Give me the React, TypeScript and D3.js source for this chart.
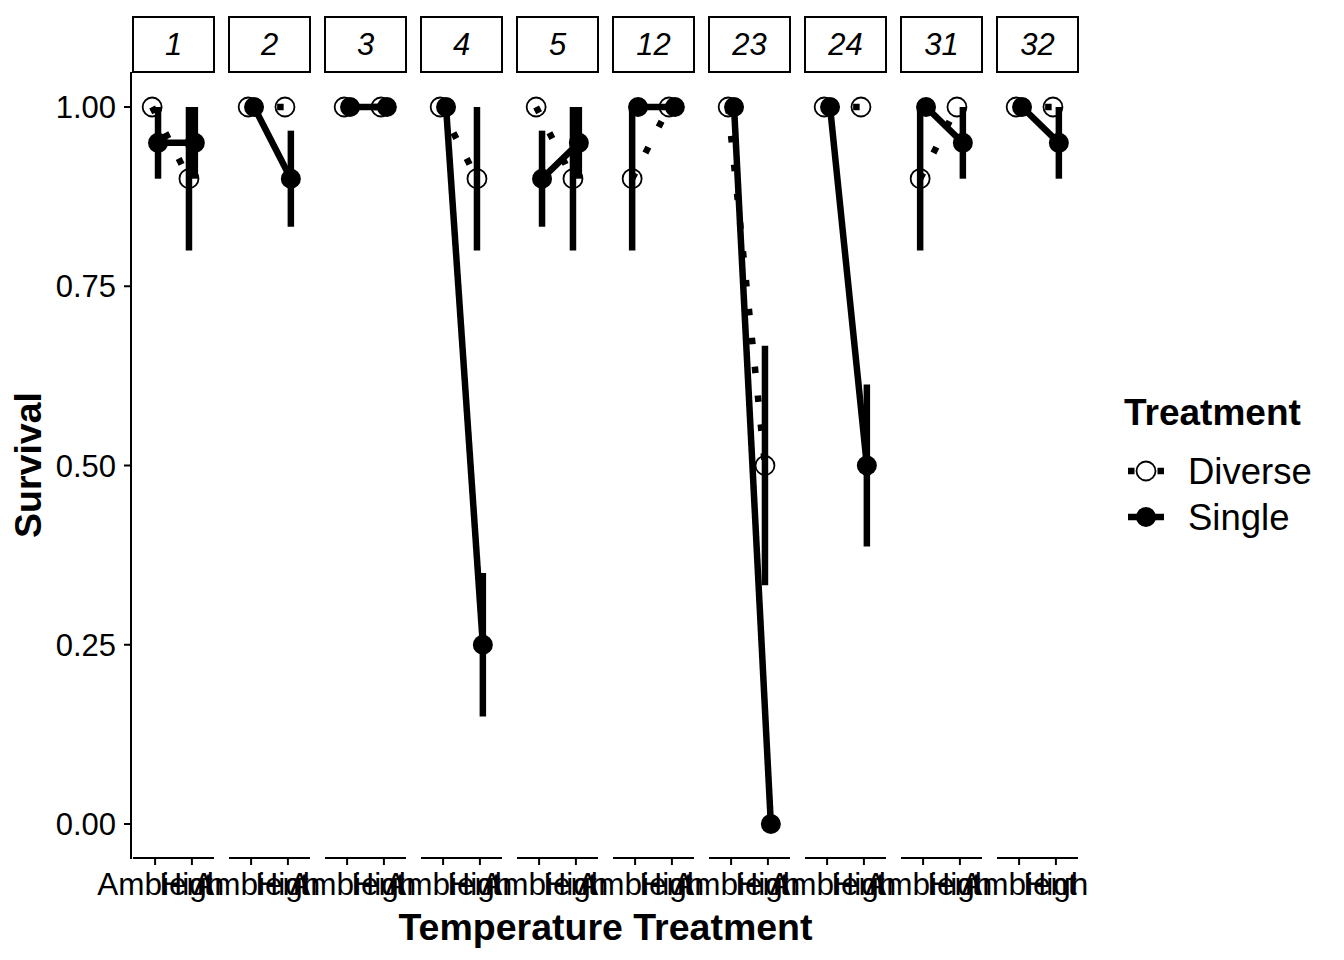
import React from 'react';
import * as d3 from 'd3';

// facets (strip labels), x levels and groups
const panels = ['1', '2', '3', '4', '5', '12', '23', '24', '31', '32'];
const temps = ['Ambient', 'High'];
const treatments = ['Diverse', 'Single'];

// mean survival and standard error per facet
const diverseAmbient = [1, 1, 1, 1, 1, 0.9, 1, 1, 0.9, 1];
const diverseAmbientSE = [0, 0, 0, 0, 0, 0.1, 0, 0, 0.1, 0];
const diverseHigh = [0.9, 1, 1, 0.9, 0.9, 1, 0.5, 1, 1, 1];
const diverseHighSE = [0.1, 0, 0, 0.1, 0.1, 0, 0.167, 0, 0, 0];
const singleAmbient = [0.95, 1, 1, 1, 0.9, 1, 1, 1, 1, 1];
const singleAmbientSE = [0.05, 0, 0, 0, 0.067, 0, 0, 0, 0, 0];
const singleHigh = [0.95, 0.9, 1, 0.25, 0.95, 1, 0, 0.5, 0.95, 0.95];
const singleHighSE = [0.05, 0.067, 0, 0.1, 0.05, 0, 0, 0.113, 0.05, 0.05];

const yTicks = [0, 0.25, 0.5, 0.75, 1];

const font = '"Liberation Sans", Arial, Helvetica, sans-serif';

const width = 1344;
const height = 960;
const panelLeft = 133;
const panelRight = 1078;
const panelTop = 72;
const panelBottom = 858;
const stripTop = 17;

const lineW = 6.5;
const dotted = '6.5 22.5';

export default function App() {
  const fx = d3.scaleBand().domain(panels).range([panelLeft, panelRight]).paddingInner(15 / 96).paddingOuter(0);
  const y = d3.scaleLinear().domain([0, 1]).range([824, 107]);

  const series = panels.map((p, i) => ({
    panel: p,
    Diverse: [
      { t: 'Ambient', v: diverseAmbient[i], se: diverseAmbientSE[i] },
      { t: 'High', v: diverseHigh[i], se: diverseHighSE[i] },
    ],
    Single: [
      { t: 'Ambient', v: singleAmbient[i], se: singleAmbientSE[i] },
      { t: 'High', v: singleHigh[i], se: singleHighSE[i] },
    ],
  }));

  return (
    <svg width={width} height={height} style={{ position: 'absolute', left: 0, top: 0, background: '#fff' }}
      fontFamily={font}>
      {series.map((s) => {
        const x0 = fx(s.panel)!;
        const x = d3.scalePoint().domain(temps).range([x0, x0 + fx.bandwidth()]).padding(0.6);
        const dodge = x.step() * 0.08;
        const px = (t: string, g: string) => x(t)! + (g === 'Diverse' ? -dodge : dodge);
        const line = (g: string) =>
          d3.line<{ t: string; v: number }>().x((d) => px(d.t, g)).y((d) => y(d.v));
        return (
          <g key={s.panel}>
            {/* strip */}
            <rect x={x0} y={stripTop} width={fx.bandwidth()} height={panelTop - stripTop}
              fill="#fff" stroke="#000" strokeWidth={2} />
            <text x={x0 + fx.bandwidth() / 2} y={55} textAnchor="middle" fontSize={31} fontStyle="italic">
              {s.panel}
            </text>
            {/* bottom axis */}
            <line x1={x0} x2={x0 + fx.bandwidth()} y1={panelBottom} y2={panelBottom} stroke="#000" strokeWidth={2} />
            {temps.map((t) => (
              <g key={t}>
                <line x1={x(t)} x2={x(t)} y1={panelBottom} y2={panelBottom + 7} stroke="#000" strokeWidth={2} />
                <text x={x(t)} y={895} textAnchor="middle" fontSize={31.5}>{t}</text>
              </g>
            ))}
            {/* lines */}
            <path d={line('Diverse')(s.Diverse)!} fill="none" stroke="#000" strokeWidth={lineW}
              strokeDasharray={dotted} />
            <path d={line('Single')(s.Single)!} fill="none" stroke="#000" strokeWidth={lineW} />
            {/* points */}
            {s.Diverse.map((d) => (
              <circle key={'d' + d.t} cx={px(d.t, 'Diverse')} cy={y(d.v)} r={9.5} fill="none" stroke="#000"
                strokeWidth={1.8} />
            ))}
            {s.Single.map((d) => (
              <circle key={'s' + d.t} cx={px(d.t, 'Single')} cy={y(d.v)} r={10} fill="#000" />
            ))}
            {/* error bars */}
            {treatments.map((g) =>
              (g === 'Diverse' ? s.Diverse : s.Single).filter((d) => d.se > 0).map((d) => (
                <line key={g + d.t} x1={px(d.t, g)} x2={px(d.t, g)} y1={y(d.v - d.se)} y2={y(d.v + d.se)}
                  stroke="#000" strokeWidth={lineW} />
              ))
            )}
          </g>
        );
      })}

      {/* y axis */}
      <line x1={131} x2={131} y1={panelTop} y2={panelBottom + 1} stroke="#000" strokeWidth={2} />
      {yTicks.map((t) => (
        <g key={t}>
          <line x1={124} x2={131} y1={y(t)} y2={y(t)} stroke="#000" strokeWidth={2} />
          <text x={116} y={y(t)} dy="0.36em" textAnchor="end" fontSize={31}>{d3.format('.2f')(t)}</text>
        </g>
      ))}

      {/* axis titles */}
      <text x={(panelLeft + panelRight) / 2} y={940} textAnchor="middle" fontSize={37.5} fontWeight="bold">
        Temperature Treatment
      </text>
      <text transform={`translate(41,${(panelTop + panelBottom) / 2}) rotate(-90)`} textAnchor="middle"
        fontSize={37.5} fontWeight="bold">
        Survival
      </text>

      {/* legend */}
      <text x={1124} y={425} fontSize={37} fontWeight="bold">Treatment</text>
      {treatments.map((g, i) => {
        const cy = 471 + i * 46;
        return (
          <g key={g}>
            <line x1={1128} x2={1164} y1={cy} y2={cy} stroke="#000" strokeWidth={lineW}
              strokeDasharray={g === 'Diverse' ? '6.5 23' : undefined} />
            {g === 'Diverse' ? (
              <circle cx={1146} cy={cy} r={9.5} fill="#fff" stroke="#000" strokeWidth={1.8} />
            ) : (
              <circle cx={1146} cy={cy} r={10} fill="#000" />
            )}
            <text x={1188} y={cy} dy="0.36em" fontSize={36.5}>{g}</text>
          </g>
        );
      })}
    </svg>
  );
}
